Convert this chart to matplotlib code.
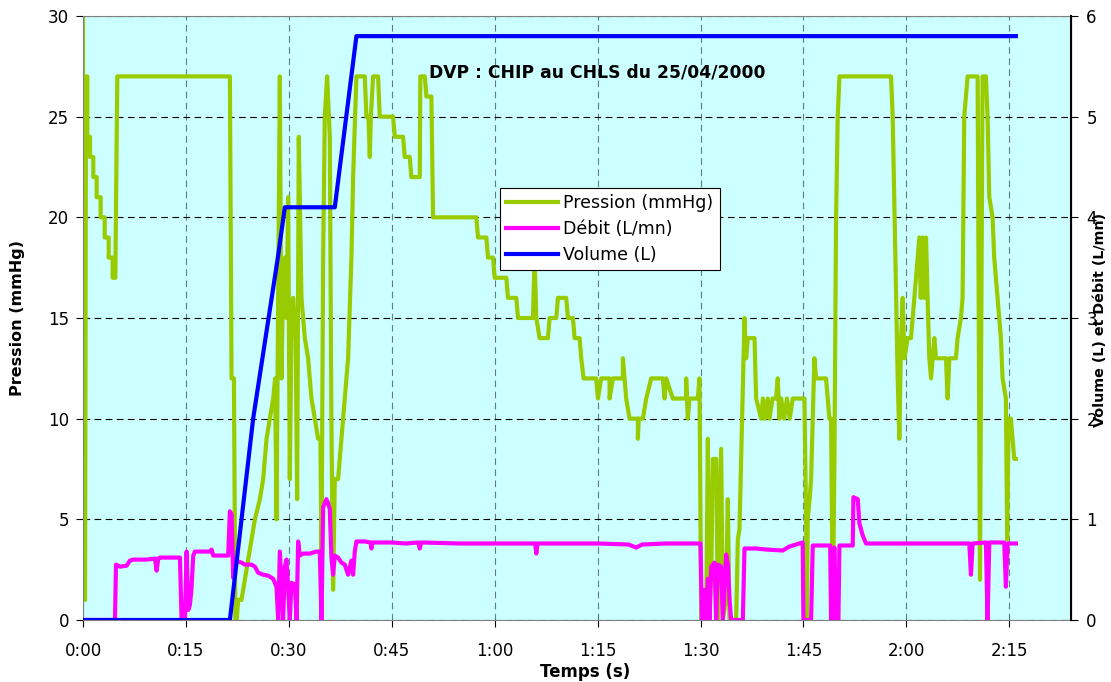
import numpy as np
import matplotlib.pyplot as plt
from matplotlib.ticker import FuncFormatter

# temps en minutes, pression en mmHg
t_pression = [0.00, 0.05, 0.30, 0.44, 0.63, 0.63, 1.02, 1.02, 1.50, 1.50, 1.99, 1.99, 2.57, 2.57,
              3.16, 3.16, 3.74, 3.74, 4.32, 4.32, 4.71, 5.00, 21.41, 21.65, 22.00, 22.20, 22.40,
              22.62, 23.10, 23.59, 24.08, 24.56, 25.05, 25.78, 26.26, 26.75, 27.23, 27.72, 28.00,
              28.20, 28.69, 28.93, 29.17, 29.42, 29.66, 29.90, 30.14, 30.40, 30.63, 31.00, 31.21,
              31.45, 31.84, 32.33, 32.81, 33.30, 33.78, 34.27, 34.60, 34.76, 35.00, 35.24, 35.58,
              35.97, 36.20, 36.45, 36.70, 37.18, 37.67, 38.15, 38.64, 39.12, 39.37, 39.85,
              41.07, 41.31, 41.60, 41.80, 41.95, 42.28, 43.01, 43.25, 45.19, 45.44, 46.65, 46.89,
              47.62, 47.86, 49.08, 49.17, 49.81, 50.05, 50.78, 51.02, 57.33, 57.57, 58.79, 59.03,
              59.76, 60.00, 61.70, 61.94, 63.15, 63.40, 65.58, 65.82, 66.07, 66.55, 67.76, 68.01,
              68.98, 69.22, 70.43, 70.68, 71.41, 71.65, 72.38, 72.62, 72.96, 74.80, 75.05, 75.53,
              76.75, 76.75, 77.23, 78.69, 78.69, 79.17, 79.66, 80.87, 80.87, 81.00, 81.60, 82.09,
              82.81, 84.51, 84.76, 85.00, 85.97, 87.91, 87.91, 88.15, 88.40, 89.61, 89.85, 90.10,
              90.34, 90.60, 90.83, 91.07, 91.31, 91.60, 91.80, 92.30, 92.53, 93.01, 93.25, 93.70,
              93.98, 94.23, 95.20, 95.44, 95.68, 95.92, 96.41, 96.65, 96.90, 97.87, 98.11, 98.84,
              99.10, 99.40, 99.80, 100.05, 100.50, 101.02, 101.26, 101.50, 101.75, 102.20, 102.60,
              103.00, 103.45, 104.90, 105.15, 105.39, 105.50, 105.63, 105.90, 106.12, 106.60,
              106.84, 107.09, 108.30, 108.55, 108.79, 109.03, 109.28, 109.52, 109.76, 110.00,
              110.25, 117.77, 118.01, 118.74, 118.98, 119.23, 119.47, 119.71, 120.20, 120.68,
              121.17, 121.65, 121.90, 122.10, 122.38, 122.60, 122.87, 123.10, 123.35, 123.60,
              123.84, 124.08, 124.32, 125.54, 125.78, 126.02, 126.27, 127.23, 127.47, 127.96,
              128.20, 128.44, 128.69, 128.93, 130.39, 130.73, 131.11, 131.60, 131.84, 132.09,
              132.57, 132.81, 133.30, 133.54, 133.78, 134.03, 134.51, 134.70, 134.90, 135.24,
              135.48, 135.73, 135.97]
pression = [30, 1, 1, 27, 27, 24, 24, 23, 23, 22, 22, 21, 21, 20,
            20, 19, 19, 18, 18, 17, 17, 27, 27, 12, 12, 0, 0,
            1, 1, 2, 3, 4, 5, 6, 7, 9, 10, 11, 12,
            5, 27, 12, 17, 18, 15, 21, 7, 15, 16, 14, 6,
            24, 16, 14, 13, 11, 10, 9, 9, 3, 18, 25, 27,
            24, 10, 1.5, 7, 7, 9, 11, 13, 18, 22, 27,
            27, 25, 25, 23, 25, 27, 27, 25, 25, 24, 24, 23,
            23, 22, 22, 27, 27, 26, 26, 20, 20, 19, 19, 18,
            18, 17, 17, 16, 16, 15, 15, 18, 15, 14, 14, 15,
            15, 16, 16, 15, 15, 14, 14, 13, 12, 12, 11, 12,
            12, 11, 12, 12, 13, 11, 10, 10, 9, 10, 10, 11,
            12, 12, 11, 12, 11, 11, 12, 10, 11, 11, 12, 0,
            0, 1, 0, 9, 0, 3, 8, 8, 0, 8.5, 0, 1,
            6, 0, 0, 4, 4.5, 8, 15, 13, 14, 14, 11, 10,
            11, 10, 11, 10, 11, 11, 12, 10, 11, 10, 11,
            10, 11, 11, 11, 5, 0, 5, 6, 7, 13,
            12, 12, 12, 11, 10, 10, 0, 8, 20, 25,
            27, 27, 25, 12, 9, 14, 16, 13, 14, 14,
            16, 18, 19, 16, 19, 16, 19, 16, 13, 12,
            13, 14, 13, 13, 13, 11, 13, 13, 14, 15,
            16, 25, 26, 27, 27, 2, 27, 27, 25, 21,
            20, 18, 16, 15, 14, 12, 11, 4, 10, 10,
            9, 8, 8]

# débit en L/mn
t_debit = [0.00, 4.66, 4.81, 5.39, 6.36, 6.84, 7.33, 9.27, 10.49, 10.73, 10.97, 11.21, 14.13,
           14.37, 14.85, 15.10, 15.34, 15.58, 15.80, 16.07, 16.31, 18.49, 18.74, 18.98, 20.68,
           21.16, 21.41, 21.65, 21.89, 22.13, 22.62, 23.11, 23.59, 24.56, 25.05, 25.53, 26.26,
           26.99, 27.72, 28.20, 28.45, 28.69, 28.93, 29.17, 29.42, 29.66, 29.90, 30.14, 30.39,
           30.90, 31.12, 31.36, 31.60, 32.09, 33.06, 34.03, 34.51, 34.76, 35.00, 35.48, 35.73,
           35.97, 36.21, 36.45, 36.70, 37.18, 37.67, 38.15, 38.64, 39.12, 39.37, 39.61, 39.85,
           41.07, 41.90, 42.04, 42.20, 45.00, 47.00, 48.90, 49.08, 49.30, 55.00, 60.00, 65.90,
           66.07, 66.25, 75.00, 79.50, 80.63, 81.50, 85.00, 90.00, 90.20, 90.58, 90.83, 91.07,
           91.31, 91.56, 92.04, 92.28, 92.53, 93.01, 93.25, 93.74, 94.00, 94.23, 94.47, 96.17,
           96.41, 98.11, 99.57, 101.99, 102.96, 104.42, 104.90, 105.00, 106.12, 106.36, 108.00,
           108.90, 109.03, 109.40, 109.50, 109.70, 110.10, 110.25, 112.19, 112.29, 112.92,
           113.16, 113.64, 114.13, 129.18, 129.42, 129.66, 131.60, 131.84, 132.09, 134.27,
           134.51, 134.76, 135.97]
debit = [0, 0, 0.55, 0.53, 0.54, 0.59, 0.60, 0.60, 0.61, 0.49, 0.61, 0.62, 0.62,
         0.0, 0.0, 0.68, 0.10, 0.15, 0.30, 0.64, 0.68, 0.68, 0.70, 0.64, 0.64,
         0.64, 1.08, 1.05, 0.42, 0.60, 0.58, 0.57, 0.55, 0.55, 0.53, 0.47, 0.45,
         0.44, 0.41, 0.33, 0.0, 0.68, 0.33, 0.0, 0.53, 0.60, 0.33, 0.0, 0.37,
         0.35, 0.0, 0.78, 0.64, 0.66, 0.66, 0.68, 0.68, 0.0, 1.12, 1.20, 1.16,
         1.10, 0.62, 0.45, 0.64, 0.62, 0.57, 0.55, 0.45, 0.59, 0.45, 0.68, 0.78,
         0.78, 0.77, 0.71, 0.77, 0.77, 0.76, 0.77, 0.71, 0.77, 0.76, 0.76, 0.76,
         0.66, 0.76, 0.76, 0.75, 0.72, 0.75, 0.76, 0.76, 0.0, 0.30, 0.0, 0.41,
         0.0, 0.53, 0.57, 0.0, 0.55, 0.53, 0.0, 0.65, 0.55, 0.20, 0.0, 0.0,
         0.71, 0.71, 0.70, 0.69, 0.73, 0.76, 0.77, 0.0, 0.0, 0.74, 0.74,
         0.74, 0.0, 0.0, 0.72, 0.0, 0.0, 0.74, 0.74, 1.22, 1.20,
         0.96, 0.84, 0.76, 0.76, 0.45, 0.76, 0.77, 0.0, 0.77, 0.77,
         0.33, 0.76, 0.76]

# volume en L
t_volume = [0.00, 21.41, 24.80, 28.40, 29.42, 36.70, 39.85, 135.97]
volume = [0.0, 0.0, 2.0, 3.6, 4.1, 4.1, 5.8, 5.8]

W, H = 1111, 682
fig = plt.figure(figsize=(W / 100, H / 100), dpi=100)
ax = fig.add_axes([83 / W, 1 - 620 / H, 988 / W, 604 / H])
ax.set_facecolor('#CCFFFF')
ax2 = ax.twinx()

l1, = ax.plot(t_pression, pression, color='#99CC00', lw=3, label='Pression (mmHg)')
l2, = ax2.plot(t_debit, debit, color='#FF00FF', lw=3, label='Débit (L/mn)')
l3, = ax2.plot(t_volume, volume, color='#0000FF', lw=3, label='Volume (L)')

ax.set_xlim(0, 144)
ax.set_ylim(0, 30)
ax2.set_ylim(0, 6)
ax.set_xticks(np.arange(0, 136, 15))
ax.xaxis.set_major_formatter(FuncFormatter(lambda v, p: '%d:%02d' % (v // 60, v % 60)))
ax.set_yticks(np.arange(0, 31, 5))
ax2.set_yticks(np.arange(0, 7, 1))

ax.yaxis.grid(True, color='black', linestyle=(0, (6, 4)), lw=0.8)
ax.xaxis.grid(True, color='#5f7f7f', linestyle=(0, (6, 4)), lw=0.8)
ax.set_axisbelow(True)

for s in ['top', 'left', 'bottom']:
    ax.spines[s].set_color('#808080')
ax2.spines['right'].set_color('black')
ax2.spines['right'].set_linewidth(1.5)
for s in ['top', 'left', 'bottom']:
    ax2.spines[s].set_visible(False)

ax.tick_params(axis='x', labelsize=12, length=5, pad=11)
ax.tick_params(axis='y', labelsize=12, length=5, pad=5)
ax2.tick_params(axis='y', labelsize=12, length=5, pad=6)

fig.text(585 / W, 1 - 672 / H, 'Temps (s)', ha='center', va='center',
         fontsize=12, fontweight='bold')
fig.text(18 / W, 1 - 318 / H, 'Pression (mmHg)', ha='center', va='center',
         rotation=90, fontsize=11.5, fontweight='bold')
fig.text(1100 / W, 1 - 320 / H, 'Volume (L) et Débit (L/mn)', ha='center', va='center',
         rotation=90, fontsize=10.3, fontweight='bold')

ax.text(0.52, 0.906, 'DVP : CHIP au CHLS du 25/04/2000', transform=ax.transAxes,
        ha='center', va='center', fontsize=12.3, fontweight='bold')

leg = ax2.legend(handles=[l1, l2, l3], loc='upper left', bbox_to_anchor=(0.422, 0.715),
                 borderaxespad=0, fontsize=12.5, handlelength=3.0, handletextpad=0.3,
                 fancybox=False, framealpha=1, edgecolor='black', labelspacing=0.45,
                 borderpad=0.35)
leg.get_frame().set_linewidth(0.8)

fig.savefig('out.png', dpi=100)
